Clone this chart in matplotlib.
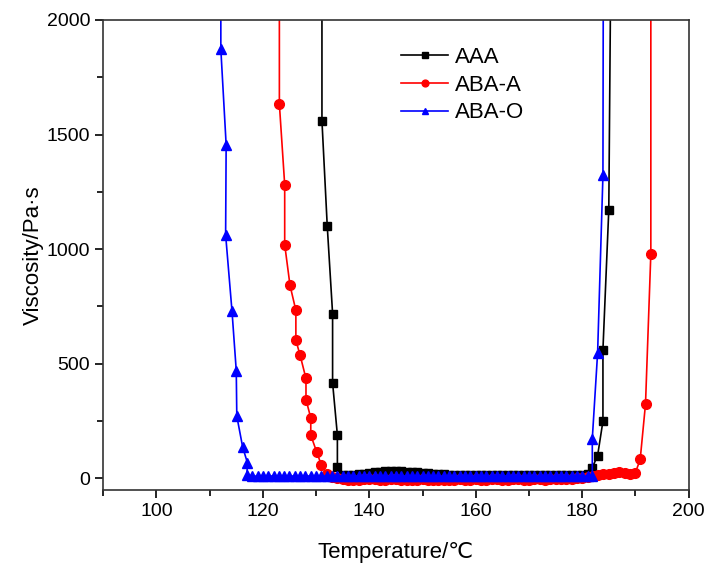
import matplotlib
matplotlib.use("Agg")
import matplotlib.pyplot as plt
from matplotlib.ticker import MultipleLocator

plt.rcParams['font.family'] = ['Liberation Sans', 'DejaVu Sans']

# AAA (black squares)
aaa_T = [131.1, 131.1, 132.1, 133.1, 133.1, 134.0, 134.0,
         135, 136, 137, 138, 139, 140, 141, 142, 143, 144, 145, 146, 147, 148, 149, 150,
         151, 152, 153, 154, 155, 156, 157, 158, 159, 160, 161, 162, 163, 164, 165, 166,
         167, 168, 169, 170, 171, 172, 173, 174, 175, 176, 177, 178, 179, 180, 181,
         181.9, 182.9, 183.9, 183.9, 185.0, 185.5]
aaa_V = [2600, 1560, 1099, 719, 417, 189, 49,
         15, 14, 16, 18, 20, 24, 28, 30, 32, 33, 33, 32, 30, 28, 26, 24,
         22, 20, 19, 18, 17, 17, 16, 16, 15, 15, 15, 14, 14, 14, 14, 14,
         14, 14, 14, 14, 14, 14, 14, 14, 14, 15, 15, 15, 16, 17, 20,
         47, 100, 250, 562, 1172, 2600]

# ABA-A (red circles)
abaa_T = [123.1, 123.1, 124.1, 124.1, 125.1, 126.2, 126.2, 127.0, 128.1, 128.1, 129.0, 129.0,
          130.1, 131.0, 132, 133, 134, 135, 136, 137, 138, 139, 140, 141, 142, 143, 144, 145,
          146, 147, 148, 149, 150, 151, 152, 153, 154, 155, 156, 157, 158, 159, 160, 161,
          162, 163, 164, 165, 166, 167, 168, 169, 170, 171, 172, 173, 174, 175, 176, 177,
          178, 179, 180, 181, 182, 183, 184, 185, 186, 187, 188, 189, 190, 190.9, 191.9,
          192.9, 192.9]
abaa_V = [2600, 1633, 1281, 1020, 842, 733, 603, 537, 436, 344, 264, 189,
          116, 58, 20, 8, 2, -3, -5, -6, -5, -4, -3, -4, -5, -5, -4, -4,
          -5, -6, -5, -5, -4, -5, -5, -6, -6, -5, -5, -4, -5, -5, -4, -5,
          -5, -4, -4, -5, -5, -4, -4, -5, -5, -4, -4, -5, -4, -4, -3, -3,
          -2, 0, 3, 6, 12, 15, 18, 20, 22, 28, 22, 20, 25, 83, 325,
          979, 2600]

# ABA-O (blue triangles)
abao_T = [112.1, 112.1, 113.1, 113.0, 114.2, 115.0, 115.1, 116.2, 117.1, 117.0,
          118, 119, 120, 121, 122, 123, 124, 125, 126, 127, 128, 129, 130, 131, 132, 133,
          134, 135, 136, 137, 138, 139, 140, 141, 142, 143, 144, 145, 146, 147, 148, 149,
          150, 151, 152, 153, 154, 155, 156, 157, 158, 159, 160, 161, 162, 163, 164, 165,
          166, 167, 168, 169, 170, 171, 172, 173, 174, 175, 176, 177, 178, 179, 180, 181,
          181.9, 181.9, 182.9, 183.9, 184.0]
abao_V = [2600, 1872, 1455, 1063, 729, 470, 272, 137, 68, 17,
          10, 10, 11, 10, 11, 10, 11, 11, 10, 11, 10, 11, 11, 10, 11, 10,
          10, 11, 10, 11, 10, 11, 10, 11, 10, 11, 10, 10, 11, 10, 11, 10,
          11, 10, 11, 10, 10, 11, 10, 11, 10, 11, 10, 11, 10, 10, 11, 10,
          11, 10, 10, 11, 10, 11, 10, 10, 11, 10, 11, 10, 11, 10, 11, 10,
          10, 173, 548, 1322, 2600]

x_ticks = [100, 120, 140, 160, 180, 200]
y_ticks = [0, 500, 1000, 1500, 2000]

fig = plt.figure(figsize=(7.07, 5.69), dpi=100)
ax = fig.add_axes([0.146, 0.139, 0.828, 0.826])

ax.plot(aaa_T, aaa_V, color='black', marker='s', markersize=6, linewidth=1.2, label='AAA')
ax.plot(abaa_T, abaa_V, color='red', marker='o', markersize=7, linewidth=1.2, label='ABA-A')
ax.plot(abao_T, abao_V, color='blue', marker='^', markersize=7, linewidth=1.2, label='ABA-O')

ax.set_xlim(90, 200)
ax.set_ylim(-50, 2000)
ax.set_xticks(x_ticks)
ax.set_yticks(y_ticks)
ax.xaxis.set_minor_locator(MultipleLocator(10))
ax.yaxis.set_minor_locator(MultipleLocator(250))
ax.tick_params(which='both', direction='out', top=False, right=False, labelsize=14, width=1.2)
ax.tick_params(which='major', length=6)
ax.tick_params(which='minor', length=4)
for s in ax.spines.values():
    s.set_linewidth(1.2)
    s.set_color('#333333')

ax.set_xlabel('Temperature/℃', fontsize=16, labelpad=16)
ax.set_ylabel('Viscosity/Pa·s', fontsize=16, labelpad=2)

ax.legend(loc='upper left', bbox_to_anchor=(0.475, 0.985), frameon=False, fontsize=16,
          handlelength=2.1, handletextpad=0.3, labelspacing=0.3, markerscale=0.7)

fig.savefig('out.png', dpi=100)
